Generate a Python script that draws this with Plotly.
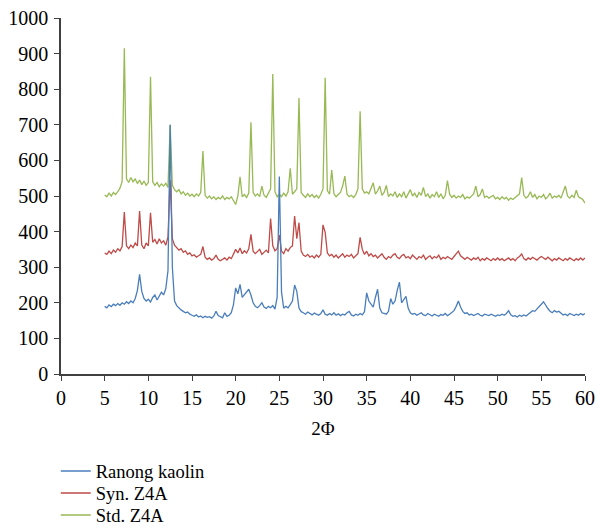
import numpy as np
import plotly.graph_objects as go

# 2-theta grid (degrees), 5.00 .. 60.00 step 0.25
two_theta = [round(5 + 0.25 * i, 2) for i in range(221)]

ranong_kaolin = [
    190, 186, 194, 189, 196, 192, 198, 193, 200, 196, 203, 198, 205, 200, 212, 235, 280, 232, 212, 205,
    210, 202, 215, 222, 208, 218, 230, 222, 240, 290, 700, 300, 205, 192, 185, 180, 176, 172, 174, 168,
    165, 162, 166, 160, 163, 158, 162, 159, 161, 157, 163, 176, 164, 160, 158, 172, 162, 165, 172, 195,
    242, 225, 252, 215, 222, 232, 238, 222, 200, 190, 186, 192, 200, 188, 184, 190, 186, 192, 182, 215,
    555, 230, 185, 190, 186, 195, 205, 250, 232, 185, 175, 172, 168, 174, 170, 166, 171, 168, 165, 170,
    180, 168, 165, 170, 166, 172, 165, 169, 164, 168, 166, 172, 176, 166, 163, 168, 165, 170, 166, 175,
    228, 205, 198, 188, 215, 238, 185, 172, 170, 168, 176, 212, 196, 205, 235, 258, 200, 210, 218, 185,
    172, 168, 170, 165, 168, 172, 166, 164, 170, 166, 163, 168, 165, 162, 167, 165, 170, 164, 168, 172,
    178, 190, 205, 188, 176, 170, 172, 166, 168, 164, 167, 170, 165, 163, 168, 166, 164, 168, 165, 162,
    166, 164, 168, 165, 170, 178, 166, 162, 164, 160, 165, 162, 166, 163, 168, 172, 178, 176, 182, 190,
    196, 203, 192, 184, 176, 172, 178, 174, 176, 170, 166, 168, 164, 170, 166, 164, 168, 165, 170, 166,
    170,
]

syn_z4a = [
    340, 336, 345, 338, 348, 342, 352, 346, 358, 455, 360, 352, 362, 355, 368, 360, 458, 362, 352, 368,
    360, 453, 370, 378, 365, 380, 368, 374, 362, 385, 545, 380, 362, 355, 348, 352, 342, 346, 336, 340,
    332, 335, 328, 332, 336, 358, 328, 322, 326, 320, 324, 334, 322, 318, 322, 326, 320, 328, 324, 338,
    350, 340, 354, 338, 346, 340, 352, 392, 345, 338, 344, 350, 336, 342, 348, 340, 437, 360, 346, 352,
    390, 345, 338, 352, 345, 355, 360, 444, 380, 425, 345, 334, 330, 336, 328, 332, 326, 334, 328, 336,
    419, 398, 340, 332, 336, 328, 334, 326, 332, 338, 328, 334, 330, 336, 326, 332, 338, 384, 350, 336,
    345, 332, 338, 330, 334, 326, 332, 338, 328, 322, 330, 326, 334, 338, 328, 324, 332, 336, 326, 330,
    324, 334, 328, 322, 330, 326, 334, 322, 328, 332, 324, 330, 326, 334, 322, 328, 324, 330, 326, 322,
    330, 336, 345, 332, 326, 322, 328, 324, 320, 326, 322, 328, 318, 324, 320, 326, 322, 318, 324, 320,
    326, 320, 324, 318, 322, 326, 320, 324, 318, 326, 330, 337, 324, 320, 326, 322, 328, 324, 320, 326,
    330, 326, 322, 328, 324, 318, 324, 320, 326, 322, 318, 324, 320, 326, 322, 318, 324, 320, 326, 320,
    326,
]

std_z4a = [
    503, 498, 508, 500, 510, 504, 512, 522, 540, 915, 548, 538, 552, 540, 548, 535, 545, 532, 542, 530,
    538, 835, 540, 530, 538, 526, 534, 528, 536, 524, 700, 530, 518, 512, 518, 506, 512, 502, 508, 500,
    505, 498, 506, 500, 510, 626, 502, 494, 500, 492, 498, 490, 496, 492, 500, 490, 496, 492, 498, 488,
    476, 500, 554, 498, 504, 496, 508, 707, 510, 500, 506, 498, 528, 502, 496, 508, 520, 843, 512, 498,
    505, 498, 508, 500, 512, 578, 505, 512, 520, 775, 510, 502, 496, 506, 498, 504, 496, 502, 494, 505,
    520, 832, 515, 505, 573, 506, 498, 504, 510, 528, 556, 505, 498, 502, 496, 504, 520, 738, 520, 508,
    512, 506, 520, 537, 505, 514, 528, 502, 510, 530, 498, 506, 500, 512, 496, 506, 498, 512, 494, 504,
    518, 500, 508, 496, 510, 502, 524, 498, 506, 494, 504, 498, 512, 496, 506, 492, 502, 543, 505, 496,
    502, 494, 500, 496, 504, 492, 498, 494, 500, 506, 528, 498, 504, 520, 496, 500, 494, 498, 502, 492,
    496, 490, 498, 492, 496, 488, 494, 490, 496, 500, 506, 552, 502, 494, 500, 512, 496, 504, 492, 500,
    496, 504, 492, 498, 508, 494, 500, 496, 502, 494, 510, 528, 500, 494, 502, 496, 516, 498, 494, 490,
    480,
]

series_names = ["Ranong kaolin", "Syn. Z4A", "Std. Z4A"]
series_colors = ["#4A7EBB", "#BE4B48", "#98B954"]
x_ticks = list(range(0, 61, 5))
y_ticks = list(range(0, 1001, 100))

FONT = "Liberation Serif"

fig = go.Figure()
all_series = [ranong_kaolin, syn_z4a, std_z4a]
legend_ids = ["legend", "legend2", "legend3"]
# draw green first, blue last (on top)
for idx in [2, 1, 0]:
    fig.add_trace(go.Scatter(
        x=two_theta, y=all_series[idx], mode="lines", name=series_names[idx],
        line=dict(color=series_colors[idx], width=1.3), legend=legend_ids[idx],
    ))

axis_common = dict(
    showgrid=False, zeroline=False, showline=True, linecolor="#404040", linewidth=1.5,
    ticks="outside", ticklen=5, tickcolor="#404040", tickwidth=1,
    tickfont=dict(family=FONT, size=20, color="black"),
    automargin=False,
)

legend_common = dict(
    orientation="v", x=-0.01, xanchor="left", yanchor="top",
    font=dict(family=FONT, size=18.5, color="black"),
    itemwidth=30, bgcolor="rgba(0,0,0,0)",
)

fig.update_layout(
    width=597, height=531,
    margin=dict(l=61, r=12, t=18, b=157, autoexpand=False),
    paper_bgcolor="white", plot_bgcolor="white",
    font=dict(family=FONT, size=18, color="black"),
    showlegend=True,
    legend=dict(y=-0.2205, **legend_common),
    legend2=dict(y=-0.2823, **legend_common),
    legend3=dict(y=-0.3441, **legend_common),
    xaxis=dict(range=[0, 60], tickvals=x_ticks, ticktext=[str(v) for v in x_ticks],
               title=dict(text="2Φ", font=dict(family=FONT, size=19), standoff=14),
               **axis_common),
    yaxis=dict(range=[0, 1000], tickvals=y_ticks, ticktext=[str(v) for v in y_ticks],
               ticklabelstandoff=2, **axis_common),
)

fig.write_html("out.html")
